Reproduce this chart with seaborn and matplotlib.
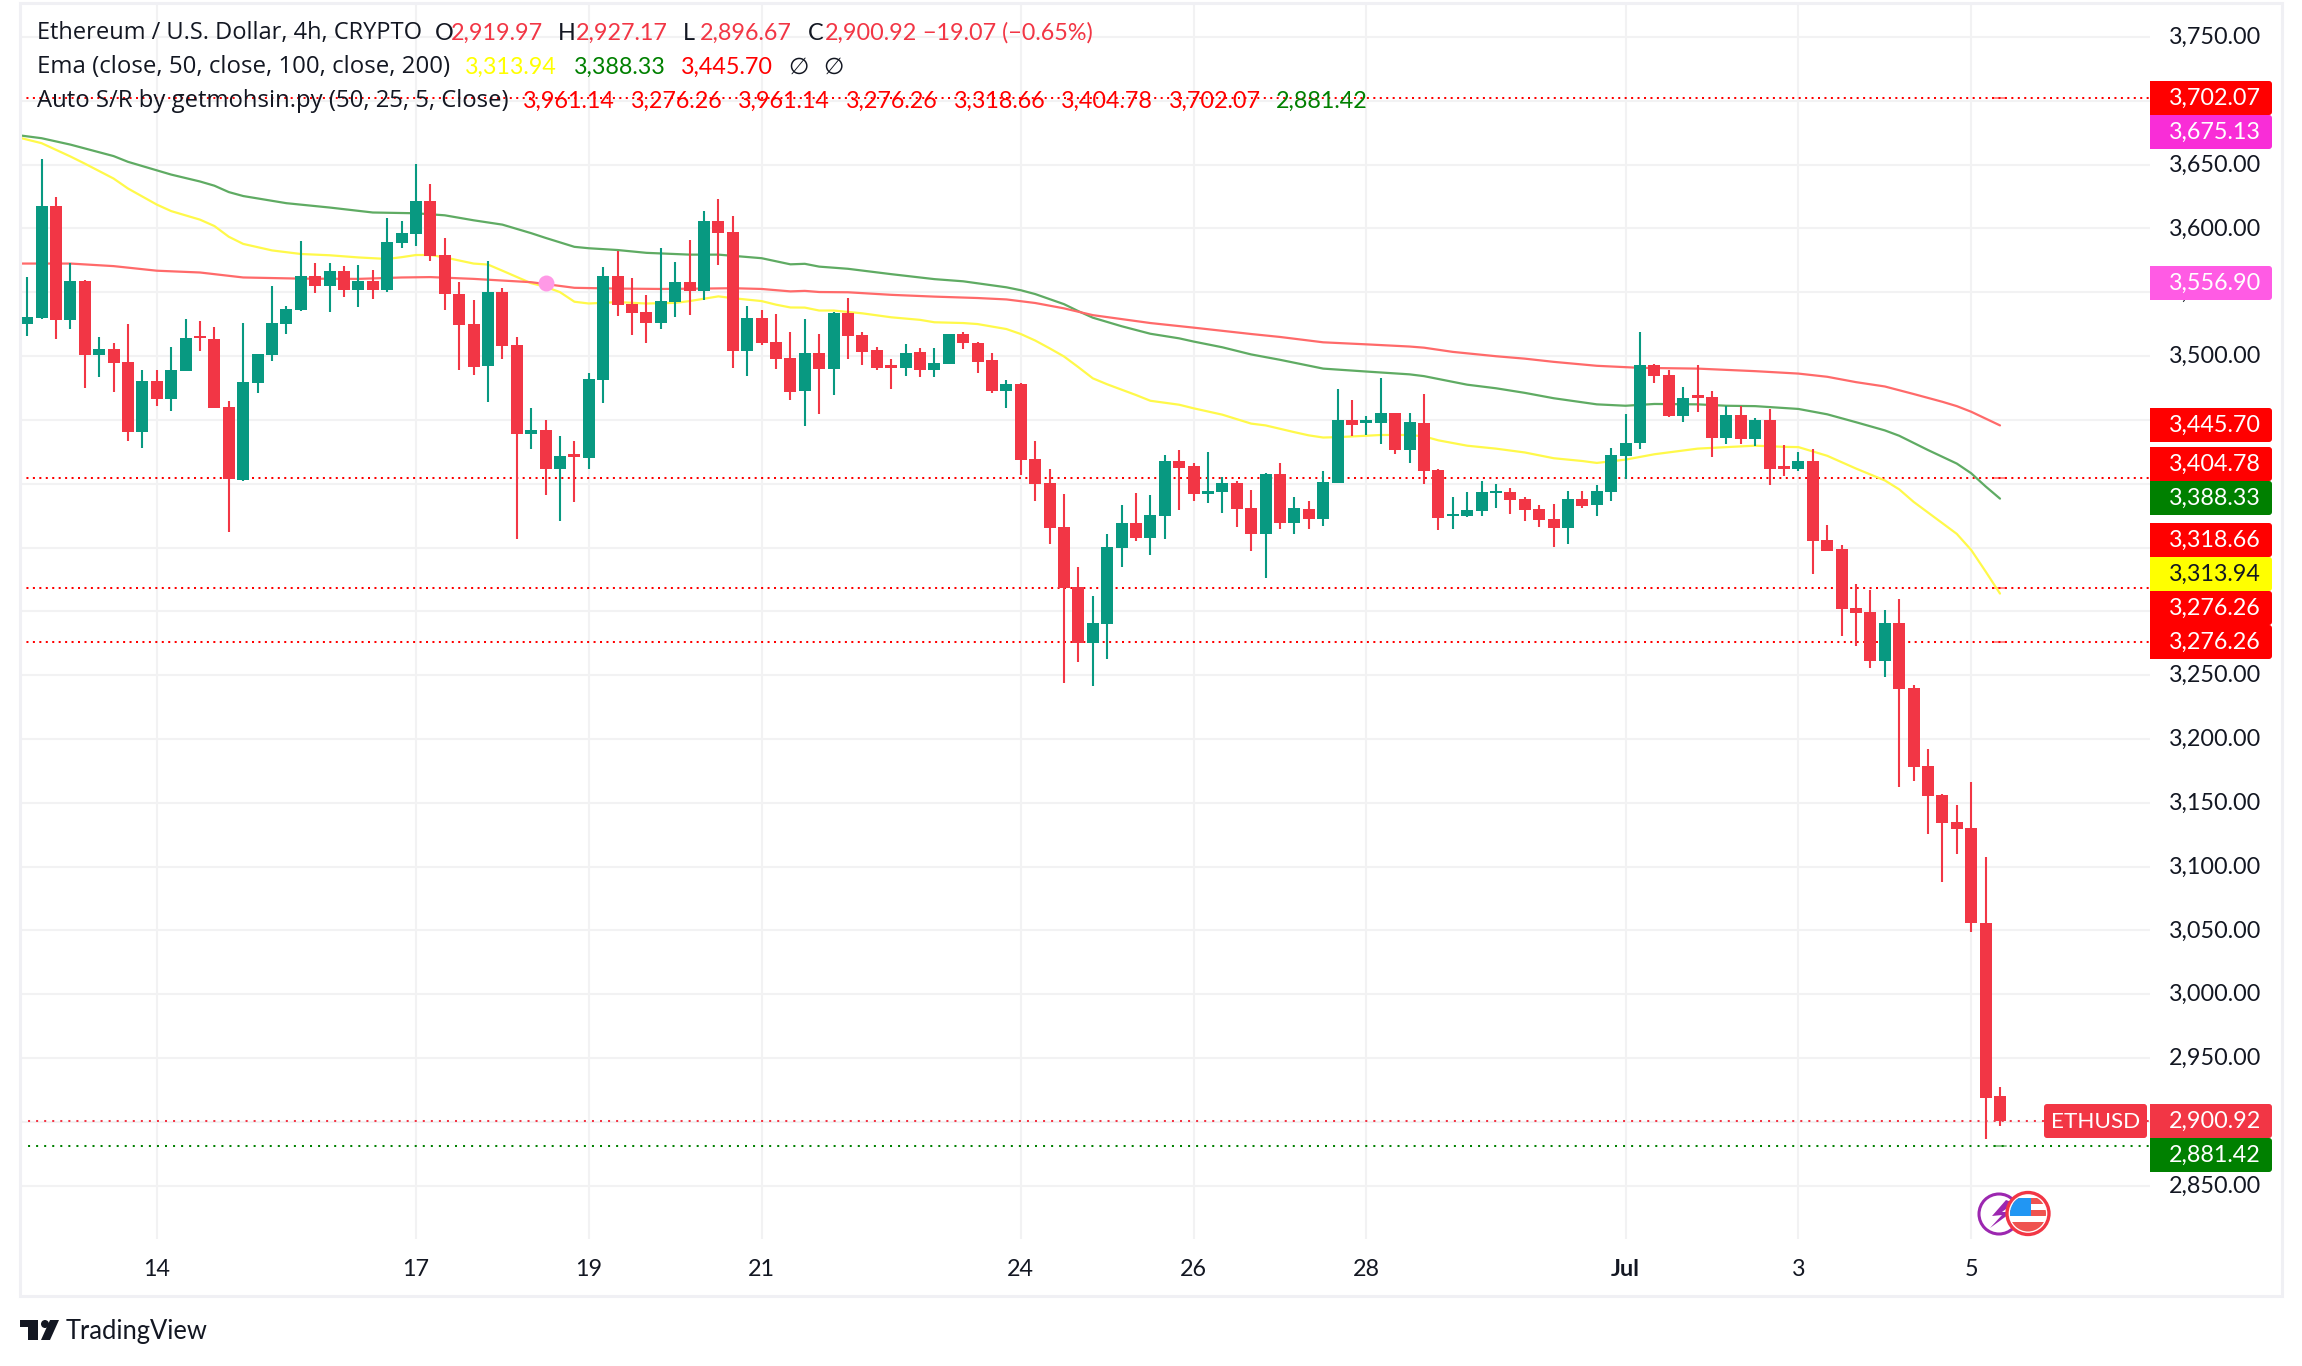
import numpy as np
import matplotlib
matplotlib.use("Agg")
import matplotlib.pyplot as plt
from matplotlib.patches import Rectangle, FancyBboxPatch, Circle, Polygon
from matplotlib.transforms import ScaledTranslation
import seaborn as sns

opens = [3525.5,3530,3617.5,3528.3,3558.8,3501.1,3505.6,3495.3,3440.7,3480.4,
 3466.7,3488.6,3515,3513.5,3460,3403.3,3479,3501.1,3525.5,3536,
 3562.7,3555.1,3566.6,3552.1,3558.8,3552.1,3589,3596,3621.5,3579,
 3549,3525,3492.5,3550,3508.7,3439.3,3442.1,3411.9,3422.2,3420,
 3481.5,3562.7,3540.9,3534.4,3525.8,3542.6,3557.9,3551.2,3605.8,3597.1,
 3504.2,3529.7,3511,3498.3,3472.5,3502.2,3489.6,3534,3516.2,3504.4,
 3492.7,3490.4,3503.6,3488.8,3493.5,3517,3510.6,3496.6,3472.3,3477.9,
 3419.2,3400.4,3365.8,3319,3275.2,3290,3349.6,3369.1,3357.4,3374.5,
 3417.5,3413.6,3391.8,3393.2,3400.4,3380.9,3360.5,3407.4,3369.1,3380,
 3372.2,3400.4,3449.6,3447.7,3447.4,3455.2,3426.2,3447.4,3410.5,3374.4,
 3374.5,3378.4,3392.6,3393.2,3387.9,3380,3372.2,3365.2,3387.9,3383.1,
 3393.4,3421.7,3432,3493,3485.2,3453,3468.7,3467.8,3435.9,3453.8,
 3435.1,3449.9,3413,3411.6,3417.7,3356,3348.9,3302.7,3299.4,3261,
 3291,3240,3178.8,3156,3135,3130.4,3055.8,2919.97]
highs = [3562,3654.5,3624.5,3572.8,3559.3,3514.9,3510.1,3525.2,3489.1,3489.1,
 3507.3,3529.1,3527.4,3522.7,3464.8,3525.8,3501.7,3554.9,3539,3590.1,
 3572.8,3572.8,3570.5,3571.4,3567.5,3608,3605.8,3650.5,3634.9,3592.4,
 3557.9,3544,3574.2,3553.2,3514.9,3459.2,3449.9,3437.4,3433.4,3486.6,
 3569.7,3582.6,3561,3547.9,3584.5,3573.6,3591,3613.6,3623.1,3609.7,
 3539.2,3536.1,3533,3518.8,3528.7,3517,3534.9,3545.2,3519.2,3507.5,
 3497.4,3509.2,3506.6,3506.1,3517,3519.2,3511.4,3502.7,3480.9,3478.7,
 3433.1,3411.3,3391.8,3334.5,3311.8,3360.5,3383.1,3392.6,3391,3422.2,
 3426.2,3416.1,3424.5,3405.2,3401.8,3394.8,3408.8,3416.1,3389.3,3386.2,
 3409.7,3474,3465.3,3452.7,3482.6,3455.8,3455.8,3470,3411.3,3389.3,
 3393.2,3401.8,3399.6,3396.5,3389.3,3383.1,3383.9,3394,3394,3398.8,
 3427.8,3454.7,3518.7,3493.8,3489.1,3475.7,3493,3472.6,3460.8,3460.8,
 3451.6,3458.6,3430.3,3424.7,3427,3367.7,3352,3321.5,3316.7,3301.1,
 3309.7,3242.3,3192,3157,3148,3166,3107.6,2927.17]
lows = [3515.7,3529,3513.7,3521.6,3475.1,3483.8,3471.8,3433.7,3428.1,3461.1,
 3457.2,3488,3504.2,3459,3362.4,3402.4,3471.2,3496.4,3517.7,3535.6,
 3549.6,3534.7,3546.5,3538.6,3545.1,3550.1,3584.8,3586.5,3574.7,3536.1,
 3489.1,3485.5,3464.2,3498.1,3357,3427.3,3391.2,3371,3385.6,3411.9,
 3463.4,3531.6,3516.8,3510.4,3521.6,3530.8,3532.5,3543.7,3571.7,3490.8,
 3484.6,3509,3490,3465.9,3445.2,3454.7,3469.5,3497.4,3492.7,3489,
 3474,3484.8,3484,3484,3493.5,3505.2,3487.1,3470.9,3459.7,3406.6,
 3386.2,3352.6,3244.2,3260.1,3241.4,3262.6,3334.5,3354.9,3344,3356.6,
 3379.2,3386.2,3384.8,3377,3365.8,3347.1,3326.4,3364.4,3360.5,3364.4,
 3366.6,3400.4,3437.1,3437.9,3430.9,3423.1,3416.6,3399.6,3363.5,3364.4,
 3373.6,3374.5,3380.9,3376.1,3370.5,3365.8,3350.1,3352.6,3380.9,3374.5,
 3386.4,3403.7,3427.3,3479,3452.2,3448.2,3456.1,3420.8,3431.2,3431.2,
 3429.5,3399,3406,3409.9,3329.3,3347.2,3280.6,3272.8,3255.7,3248.7,
 3162.6,3167,3125.6,3088,3110,3048.5,2887,2896.67]
closes = [3530.5,3617.5,3528.3,3558.8,3501.1,3505.6,3494.4,3440.7,3480.4,3466.7,
 3489.1,3514,3513.8,3459.5,3404.1,3479.6,3501.7,3525.8,3537,3562.7,
 3555.1,3566.6,3552.1,3558.8,3552.1,3589.3,3596.3,3621.5,3578.4,3548.7,
 3524.4,3491.6,3550.1,3508.1,3439.3,3442.1,3411.9,3421.7,3421.1,3482.1,
 3562.7,3540,3533.9,3526,3543.1,3557.9,3551.2,3605.8,3596.3,3504.2,
 3529.7,3510.4,3498.1,3471.8,3502.2,3489.6,3534,3515.6,3503.6,3491,
 3491,3502.7,3488.8,3494.3,3517,3510,3495.7,3472.3,3477.9,3418.3,
 3399.6,3365.2,3318.5,3275.2,3290.9,3350.1,3369.1,3357.4,3375.3,3417.5,
 3412.7,3391.8,3394,3400.4,3380,3360.5,3407.4,3369.1,3380.9,3372.2,
 3401,3449.6,3445.7,3448.8,3455.2,3426.2,3448,3409.7,3373,3376.1,
 3379.2,3393.2,3394,3387,3379.2,3371.4,3365.2,3387.9,3382.3,3394,
 3422.5,3432,3493,3484.3,3453,3467.3,3467.3,3435.9,3453.8,3435.1,
 3449.9,3411.6,3411.9,3417.7,3355.1,3347.2,3301.9,3298.8,3261,3291,
 3239.5,3178.2,3155.3,3134,3129.5,3055.8,2919,2900.92]

ema50_idx = [-0.5,1,3,4,6,7,9,10,12,13,14,15,17,19,21,23,25,26,27,28,29,31,32,33,35,36,37,38,39,41,43,45,46,48,49,51,52,53,
 54,55,56,58,60,62,63,65,66,68,69,70,71,72,73,74,75,76,77,78,80,81,83,85,86,88,89,90,91,93,94,96,97,98,100,102,104,106,108,
 109,111,113,116,118,120,122,123,125,127,129,130,131,133,134,135,136,137]
ema50 = [3671,3666.8,3656.4,3650.8,3639.1,3631.3,3618.7,3613.6,3606.9,3601.9,3593.5,3587.9,3582.8,3580,3579,3577.3,3576.1,3577.5,3579.2,3579.2,3577.3,3572.5,3571.7,3566.9,3557.1,3554.3,3550.1,3542.6,3541.2,3542.3,3541.2,3541.7,3543.1,3546.8,3545.4,3543.1,3540.3,3538.1,
 3538,3535.7,3535.7,3533.5,3530.4,3528.4,3526.5,3525.9,3525.1,3521.2,3517.3,3512.2,3506.1,3499.7,3491.3,3482.6,3477.9,3473.7,3469.5,3465,3461.9,3459.1,3454.1,3447.1,3445.7,3440.4,3437.9,3436.2,3436.5,3437.6,3438.2,3438.2,3437.1,3434,3429.8,3427.5,3424.5,3420,3417.8,
 3416.3,3418.9,3423.1,3427.5,3428.7,3429.8,3428.9,3428.7,3421.9,3411.9,3402.6,3395.6,3385.8,3369.1,3360.7,3348.1,3331.3,3313.94]
ema100_idx = [-0.5,1,3,6,7,10,12,13,14,15,18,21,24,27,29,31,33,35,36,38,39,41,43,46,48,51,53,
 54,55,57,60,63,65,68,69,70,72,73,74,76,78,80,81,83,85,87,90,93,96,97,100,102,104,106,
 109,111,113,116,118,120,123,125,127,129,130,132,134,135,136,137]
ema100 = [3672.9,3670.7,3665.7,3656.7,3652.2,3642.2,3636.8,3633.5,3628.5,3625.4,3619.8,3616.4,3612.5,3611.9,3610.3,3606.4,3603,3596.3,3592.6,3585.6,3584.5,3583.1,3580.9,3579.5,3579.5,3576.7,3571.9,
 3572.3,3570.1,3568.4,3564.2,3560.3,3558.6,3553.9,3551.6,3548.6,3540.7,3535.2,3530.1,3523.4,3517.5,3513.9,3511.4,3506.9,3501.3,3497.1,3490.2,3487.9,3485.7,3484.3,3477.6,3474.8,3471.2,3467,
 3462.2,3461.1,3462.5,3462.2,3461.1,3460.8,3458.6,3454.4,3448.2,3441.8,3437.6,3426.4,3415.8,3408.2,3397.9,3388.33]
ema200_idx = [-0.5,3,6,9,12,15,19,23,26,28,31,35,38,41,44,47,49,51,53,
 54,55,57,60,63,66,68,70,72,74,78,81,85,87,90,93,96,97,99,102,104,106,
 109,112,116,120,123,125,127,129,131,133,134,135,137]
ema200 = [3572.5,3572.5,3570.5,3566.9,3565.5,3561.6,3560.7,3560.5,3561.6,3561.9,3560.5,3557.9,3553.5,3552.9,3552.6,3552.9,3553.2,3552.6,3550.7,
 3551.1,3550.2,3550,3548,3546.6,3545.5,3544.4,3541.6,3537.4,3532.1,3525.9,3522.3,3517.3,3515,3510.8,3509.2,3507.5,3506.6,3503.3,3499.9,3498,3495.5,
 3492.4,3490.8,3490.2,3488.2,3486.3,3483.8,3479.6,3476.2,3470.3,3464.2,3460.8,3456.4,3445.70]

sr_levels = [3702.07, 3404.78, 3318.66, 3276.26]
last_price = 2900.92
low_level = 2881.42
marker_idx = 36
marker_price = 3556.90
last_idx = 137

price_ticks = list(range(2850, 3751, 50))
hidden_ticks = [3700, 3450, 3400, 3350, 3300, 2900]
date_idx = [9, 27, 39, 51, 69, 81, 93, 111, 123, 135]
date_labels = ["14", "17", "19", "21", "24", "26", "28", "Jul", "3", "5"]

box_texts = ["3,702.07","3,675.13","3,556.90","3,445.70","3,404.78","3,388.33","3,318.66","3,313.94","3,276.26","3,276.26","2,900.92","2,881.42"]
box_colors = ["#FF0000","#F92DD7","#FF5BE4","#FF0000","#FF0000","#008000","#FF0000","#FFFF00","#FF0000","#FF0000","#F23645","#008000"]
box_text_colors = ["white","white","white","white","white","white","white","#131722","white","white","white","white"]
box_tops = [81,115,266,408,447,481,523,557,591,625,1104,1138]

UP, DOWN = "#089981", "#F23645"
INK = "#131722"
GRID = "#F2F2F3"
FONT = ["Lato", "DejaVu Sans"]
WORD_FONT = ["Open Sans", "DejaVu Sans"]
FS = 16.8
W, H = 2302, 1366

sns.set_theme(style="white")
plt.rcParams["font.family"] = FONT

fig = plt.figure(figsize=(W / 100, H / 100), dpi=100, facecolor="white")
L, R, T, B = 20, 2150, 3, 1239
ax = fig.add_axes([L / W, 1 - B / H, (R - L) / W, (B - T) / H])
px_per_unit = 1.2764
ax.set_ylim(3750 - (B - 37) / px_per_unit, 3750 + (37 - T) / px_per_unit)
ax.set_xlim(-0.5, -0.5 + (R - L) / 14.4)
for s in ax.spines.values():
    s.set_visible(False)

ax.yaxis.tick_right()
ax.set_yticks(price_ticks)
ax.set_yticklabels(["" if p in hidden_ticks else f"{p:,.2f}" for p in price_ticks], ha="right", color=INK, fontsize=FS)
ax.tick_params(axis="y", length=0, pad=80)
up_shift = ScaledTranslation(0, 1.5 / 100, fig.dpi_scale_trans)
for t in ax.get_yticklabels():
    t.set_transform(t.get_transform() + up_shift)
ax.set_xticks(date_idx)
ax.set_xticklabels(date_labels, color=INK, fontsize=FS)
ax.tick_params(axis="x", length=0, pad=14.5)
for t in ax.get_xticklabels():
    if t.get_text() == "Jul":
        t.set_fontweight("bold")
ax.grid(True, color=GRID, lw=1.5, zorder=0)
ax.set_axisbelow(True)

# levels
dots = (0, (1, 2.2))
for lv in sr_levels:
    ax.axhline(lv, color="#FF0000", lw=1.45, ls=dots, zorder=1.5, dash_capstyle="butt")
    ax.plot([last_idx - 0.4, last_idx + 0.4], [lv, lv], color="#FF0000", alpha=0.45, lw=1.45, zorder=1.6)
ax.axhline(last_price, color=DOWN, lw=1.45, ls=(0, (1, 3)), zorder=1.5, dash_capstyle="butt")
ax.axhline(low_level, color="#008000", lw=1.45, ls=(0, (1, 3)), zorder=1.5, dash_capstyle="butt")
ax.plot([last_idx - 0.4, last_idx + 0.4], [low_level] * 2, color="#008000", alpha=0.45, lw=1.45, zorder=1.6)

# EMAs
for xs, ys, c in [(ema50_idx, ema50, "#FFF94A"), (ema100_idx, ema100, "#5FAB63"), (ema200_idx, ema200, "#FF6A6A")]:
    sns.lineplot(x=xs, y=ys, ax=ax, color=c, lw=1.6, estimator=None, sort=False, zorder=2, legend=False)

# candles
o, h, l, c = map(np.array, (opens, highs, lows, closes))
x = np.arange(len(o))
cols = np.where(c >= o, UP, DOWN)
ax.vlines(x, l, h, colors=cols, lw=1.5, zorder=3)
body = np.maximum(np.abs(c - o), 2.0)
ax.bar(x, body, bottom=np.minimum(o, c), width=0.84, color=cols, linewidth=0, zorder=3.1)

ax.plot([marker_idx], [marker_price], "o", ms=11.5, color="#FF99E6", mew=0, zorder=4)
ax.set_xlabel(""); ax.set_ylabel("")

# overlay in pixel units
ov = fig.add_axes([0, 0, 1, 1], zorder=5)
ov.set_xlim(0, W); ov.set_ylim(H, 0); ov.axis("off"); ov.patch.set_alpha(0)
ov.add_patch(Rectangle((L, T), 2282 - L, 1296 - T, fill=False, ec="#F0F0F4", lw=2.2))

BX, BW, BH = 2150, 122, 34
def box(x0, y0, w, h, color):
    ov.add_patch(FancyBboxPatch((x0 + 3, y0 + 3), w - 6, h - 6, boxstyle="round,pad=3", fc=color, ec="none"))
for txt, col, tc, top in zip(box_texts, box_colors, box_text_colors, box_tops):
    box(BX, top, BW, BH, col)
    ov.add_patch(Rectangle((BX, top), 30, BH, fc=col, ec="none"))
    ov.text(2261, top + BH / 2, txt, ha="right", va="center", color=tc, fontsize=FS)
box(2044, 1104, 103, 34, DOWN)
ov.text(2095.5, 1122, "ETHUSD", ha="center", va="center", color="white", fontsize=FS - 0.6)

def seg(xd, y, s, col, font=FONT, fs=FS):
    ov.text(xd * 1.468, y, s, ha="left", va="center", color=col, fontsize=fs, family=font)
y1, y2, y3 = 33, 67, 101
seg(25, y1, "Ethereum / U.S. Dollar, 4h, CRYPTO", INK, WORD_FONT, 17)
for xd, s, col in [(296, "O", INK), (307, "2,919.97", DOWN), (380, "H", INK), (392, "2,927.17", DOWN), (465, "L", INK),
                   (477, "2,896.67", DOWN), (550, "C", INK), (562, "2,900.92", DOWN), (629, "−19.07 (−0.65%)", DOWN)]:
    seg(xd, y1, s, col)
seg(25, y2, "Ema (close, 50, close, 100, close, 200)", INK, WORD_FONT, 17.3)
for xd, s, col in [(317, "3,313.94", "#FFFF00"), (391, "3,388.33", "#008000"), (464, "3,445.70", "#FF0000"),
                   (537, "∅", INK), (561, "∅", INK)]:
    seg(xd, y2, s, col)
seg(25, y3, "Auto S/R by getmohsin.py (50, 25, 5, Close)", INK, WORD_FONT, 17.2)
for xd, s, col in [(356, "3,961.14", "#FF0000"), (430, "3,276.26", "#FF0000"), (503, "3,961.14", "#FF0000"), (576, "3,276.26", "#FF0000"),
                   (650, "3,318.66", "#FF0000"), (723, "3,404.78", "#FF0000"), (796, "3,702.07", "#FF0000"), (869, "2,881.42", "#008000")]:
    seg(xd, y3, s, col)

# TradingView logo
ov.add_patch(Rectangle((20, 1320), 18, 7, fc=INK, ec="none"))
ov.add_patch(Rectangle((28, 1320), 10, 20, fc=INK, ec="none"))
ov.add_patch(Circle((45, 1324), 4, fc=INK, ec="none"))
ov.add_patch(Polygon([(50, 1320), (59, 1320), (50, 1340), (41, 1340)], fc=INK, ec="none"))
ov.text(66, 1331, "TradingView", ha="left", va="center", color=INK, fontsize=18.4)

# event icons
ov.add_patch(Circle((1999, 1214), 20, fc="white", ec="#9C27B0", lw=2.2))
ov.add_patch(Polygon([(2006, 1200), (1992, 1216), (2002, 1215), (1990, 1228), (2012, 1212), (2002, 1212), (2014, 1203)], fc="#9C27B0", ec="none"))
ring = Circle((2028, 1213.5), 21, fc="white", ec=DOWN, lw=2.4)
ov.add_patch(ring)
clip = Circle((2028, 1213.5), 18, transform=ov.transData)
for (rx, ry, rw, rh, col) in [(2010, 1198, 36, 6, "#EF5350"), (2010, 1210, 36, 6, "#EF5350"), (2010, 1222, 36, 10, "#EF5350"), (2010, 1198, 21, 18, "#2196F3")]:
    r = Rectangle((rx, ry), rw, rh, fc=col, ec="none")
    ov.add_patch(r)
    r.set_clip_path(clip)

fig.savefig("out.png", dpi=100, facecolor="white")
